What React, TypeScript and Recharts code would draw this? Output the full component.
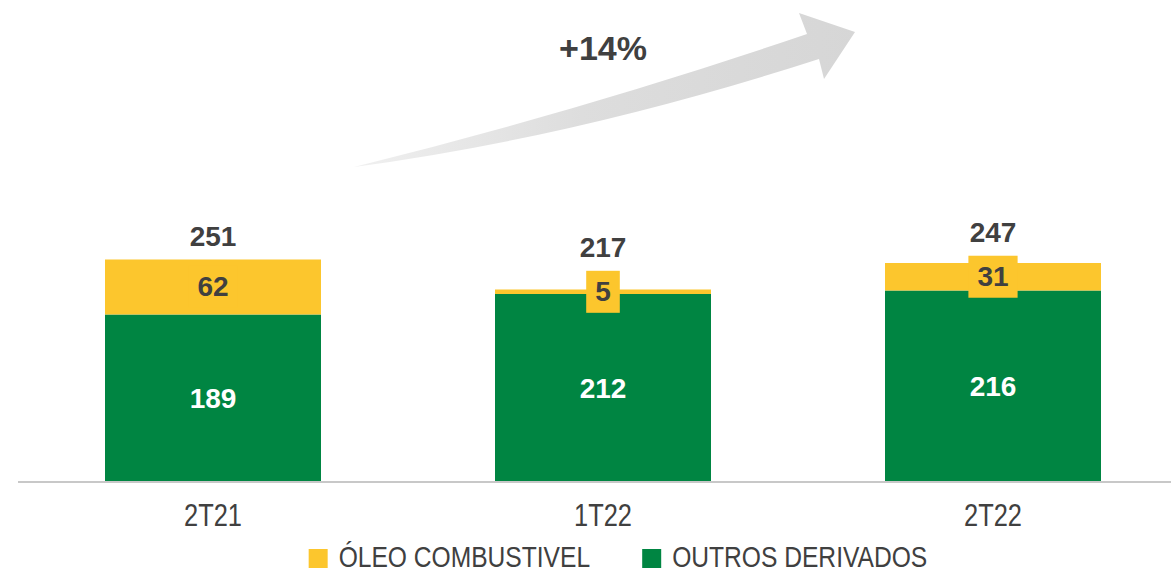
import React from 'react';
import { BarChart, Bar, XAxis, YAxis, LabelList } from 'recharts';

const categories = ['2T21', '1T22', '2T22'];
const outrosDerivados = [189, 212, 216];
const oleoCombustivel = [62, 5, 31];
const totals = [251, 217, 247];
const seriesNames = ['ÓLEO COMBUSTIVEL', 'OUTROS DERIVADOS'];
const growthLabel = '+14%';

const YELLOW = '#FCC62D';
const GREEN = '#008542';
const DARK = '#404040';
const FONT = '"Liberation Sans", Arial, sans-serif';
const NARROW = 0.82; // no narrow font installed, squeeze horizontally

const data = categories.map((cat, i) => ({
  cat,
  outros: outrosDerivados[i],
  oleo: oleoCombustivel[i],
  total: totals[i],
}));

const BOX_H = 42;

function measure(text: string, size: number) {
  const ctx = document.createElement('canvas').getContext('2d');
  if (!ctx) return text.length * size * 0.6;
  ctx.font = `${size}px ${FONT}`;
  return ctx.measureText(text).width;
}

// yellow segment value shown on a yellow box (sticks out when the segment is thin)
const OleoLabel = (props: any) => {
  const { x, y, width, height, value } = props;
  const cx = x + width / 2;
  const cy = y + height / 2;
  const w = String(value).length * 15.6 + 18;
  return (
    <g>
      <rect x={cx - w / 2} y={cy - BOX_H / 2} width={w} height={BOX_H} fill={YELLOW} />
      <text x={cx} y={cy} textAnchor="middle" dominantBaseline="central"
        fontFamily={FONT} fontWeight="bold" fontSize={28} fill={DARK}>
        {value}
      </text>
    </g>
  );
};

const TotalLabel = (props: any) => {
  const { x, y, width, height, value } = props;
  const cx = x + width / 2;
  const boxTop = y + height / 2 - BOX_H / 2;
  const top = Math.min(y, boxTop);
  return (
    <text x={cx} y={top - 23} textAnchor="middle" dominantBaseline="central"
      fontFamily={FONT} fontWeight="bold" fontSize={28} fill={DARK}>
      {value}
    </text>
  );
};

const CatTick = (props: any) => {
  const { x, y, payload } = props;
  return (
    <text transform={`translate(${x},${y + 44}) scale(${NARROW},1)`} textAnchor="middle"
      fontFamily={FONT} fontSize={31} fill={DARK}>
      {payload.value}
    </text>
  );
};

const ChartLegend = () => {
  const gap = 52;
  const items = seriesNames.map((name, i) => ({
    name,
    color: i === 0 ? YELLOW : GREEN,
    w: 19 + 11 + measure(name, 30) * NARROW,
  }));
  const total = items.reduce((s, it) => s + it.w, 0) + gap * (items.length - 1);
  let cur = 618 - total / 2;
  return (
    <svg width={1171} height={573} style={{ position: 'absolute', left: 0, top: 0, pointerEvents: 'none' }}>
      {items.map((it) => {
        const x0 = cur;
        cur += it.w + gap;
        return (
          <g key={it.name}>
            <rect x={x0} y={549} width={19} height={19} fill={it.color} />
            <text transform={`translate(${x0 + 30},567) scale(${NARROW},1)`} fontFamily={FONT} fontSize={30} fill={DARK}>
              {it.name}
            </text>
          </g>
        );
      })}
    </svg>
  );
};

const GrowthArrow = () => (
  <svg width={1171} height={200} style={{ position: 'absolute', left: 0, top: 0, pointerEvents: 'none' }}>
    <defs>
      <linearGradient id="arrowGrad" x1="354" y1="0" x2="860" y2="0" gradientUnits="userSpaceOnUse">
        <stop offset="0" stopColor="#f0f0f0" />
        <stop offset="0.45" stopColor="#dddddd" />
        <stop offset="1" stopColor="#d6d6d6" />
      </linearGradient>
    </defs>
    <path d="M354,167 Q584,110 807,34 L799,13 L855,32 L824,79 L819,59 Q578,137 354,167 Z" fill="url(#arrowGrad)" />
    <text x={603} y={60} textAnchor="middle" fontFamily={FONT} fontWeight="bold" fontSize={34} fill={DARK}>
      {growthLabel}
    </text>
  </svg>
);

export default function App() {
  return (
    <div style={{ position: 'absolute', left: 0, top: 0, width: 1171, height: 573, overflow: 'hidden', background: '#fff' }}>
      <BarChart width={1188} height={573} data={data} margin={{ top: 216, right: 0, left: 18, bottom: 61 }} barCategoryGap={0}>
        <XAxis dataKey="cat" height={30} axisLine={{ stroke: '#c8c8c8', strokeWidth: 2 }} tickLine={false}
          tickSize={0} tickMargin={0} tick={<CatTick />} interval={0} />
        <YAxis hide domain={[0, 300]} />
        <Bar dataKey="outros" stackId="a" fill={GREEN} barSize={216} isAnimationActive={false}>
          <LabelList dataKey="outros" position="center" fill="#fff" fontFamily={FONT}
            fontWeight="bold" fontSize={28} />
        </Bar>
        <Bar dataKey="oleo" stackId="a" fill={YELLOW} barSize={216} isAnimationActive={false}>
          <LabelList dataKey="oleo" content={<OleoLabel />} />
          <LabelList dataKey="total" content={<TotalLabel />} />
        </Bar>
      </BarChart>
      <GrowthArrow />
      <ChartLegend />
    </div>
  );
}
